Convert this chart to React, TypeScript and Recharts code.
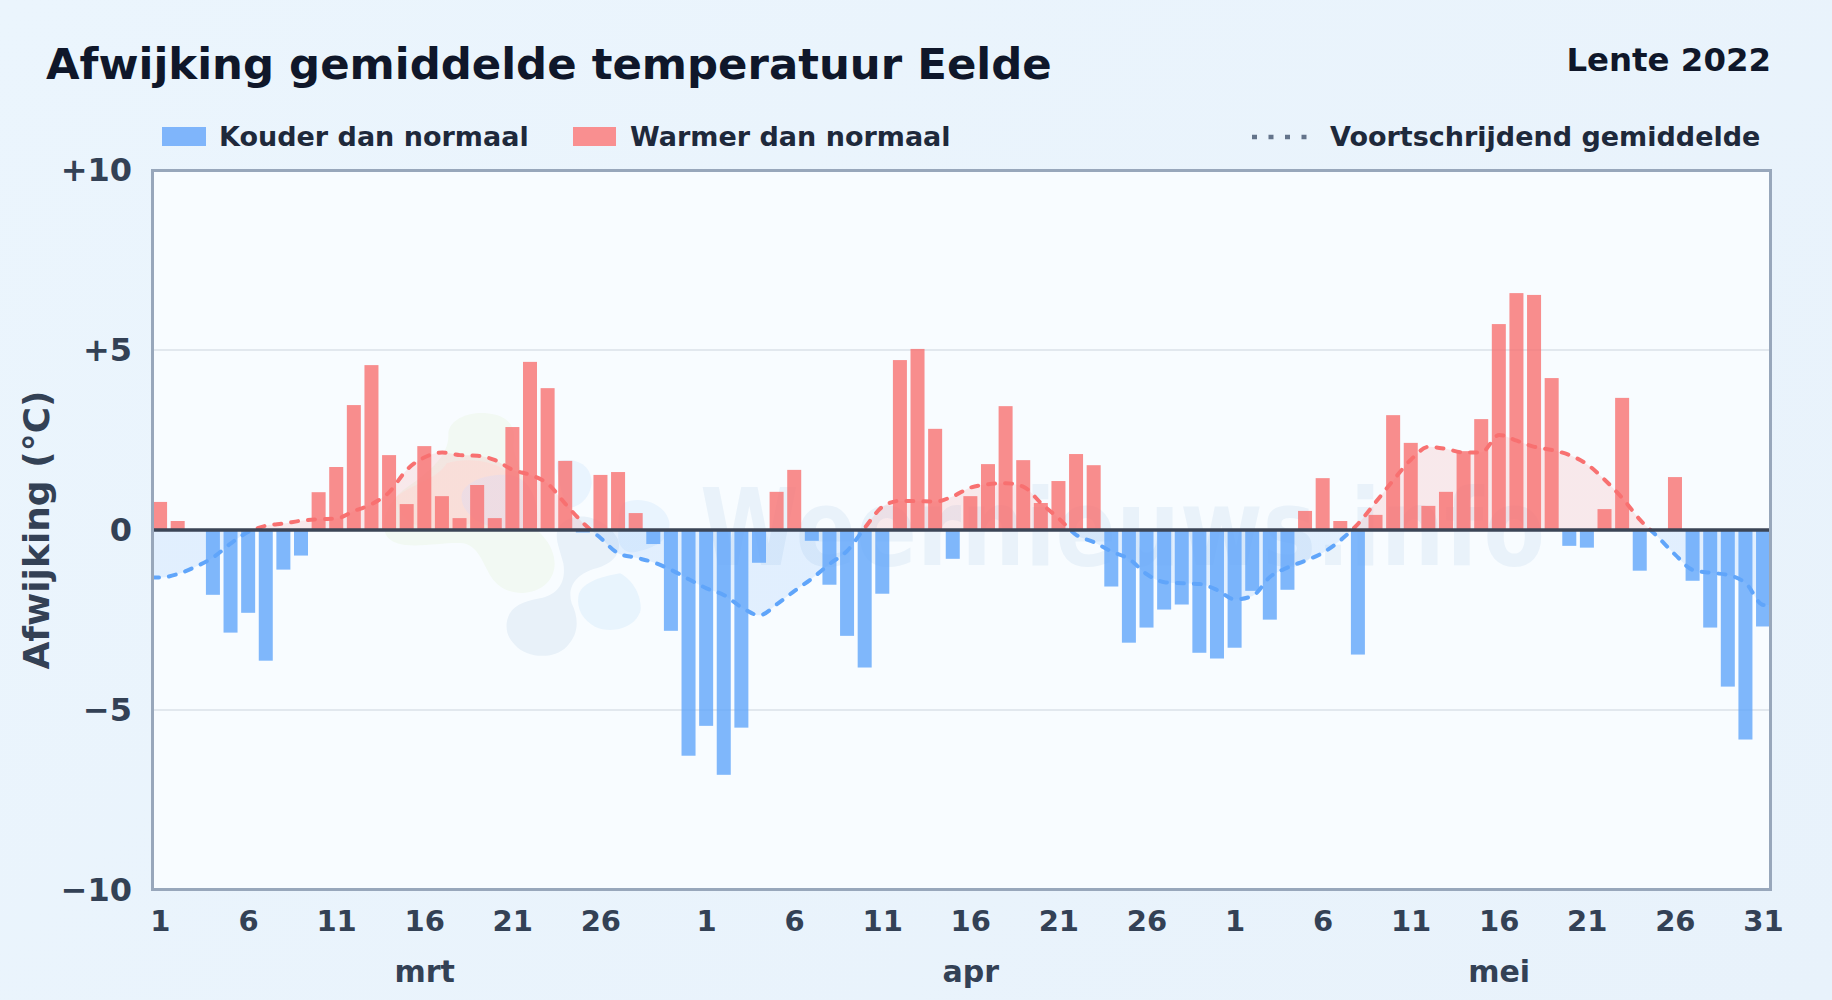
import React from 'react';
import { ComposedChart, Bar, Area, XAxis, YAxis, CartesianGrid, ReferenceLine } from 'recharts';

const marchDev = [0.78,0.25,0,-1.8,-2.85,-2.3,-3.63,-1.1,-0.71,1.05,1.75,3.47,4.58,2.08,0.72,2.33,0.94,0.33,1.25,0.33,2.86,4.67,3.94,1.92,-0.07,1.53,1.61,0.47,-0.39,-2.8,-6.27];
const aprilDev = [-5.44,-6.8,-5.49,-0.91,1.06,1.67,-0.3,-1.52,-2.94,-3.82,-1.77,4.72,5.03,2.81,-0.8,0.94,1.83,3.44,1.94,0.75,1.36,2.11,1.8,-1.57,-3.13,-2.71,-2.21,-2.07,-3.41,-3.57];
const mayDev = [-3.27,-1.69,-2.49,-1.66,0.53,1.44,0.25,-3.46,0.42,3.19,2.42,0.67,1.06,2.19,3.08,5.72,6.58,6.53,4.22,-0.44,-0.49,0.58,3.67,-1.13,0,1.47,-1.41,-2.71,-4.35,-5.82,-2.68];
const marchAvg = [-1.32,-1.22,-1.02,-0.76,-0.37,-0.05,0.12,0.18,0.26,0.3,0.32,0.53,0.72,1.06,1.68,2.02,2.15,2.08,2.06,1.94,1.67,1.53,1.28,0.72,0.19,-0.23,-0.65,-0.77,-0.9,-1.11,-1.37];
const aprilAvg = [-1.62,-1.81,-2.15,-2.37,-2.06,-1.69,-1.34,-0.94,-0.57,0.07,0.65,0.81,0.8,0.79,0.94,1.18,1.27,1.3,1.2,0.74,0.32,-0.14,-0.34,-0.6,-0.81,-1.23,-1.45,-1.48,-1.5,-1.67];
const mayAvg = [-1.93,-1.83,-1.3,-1.04,-0.85,-0.63,-0.28,0.18,0.78,1.39,1.96,2.31,2.25,2.15,2.16,2.64,2.48,2.31,2.22,2.08,1.82,1.39,0.88,0.28,-0.19,-0.69,-1.11,-1.19,-1.25,-1.48,-2.08];

const tickIndexes = [0,5,10,15,20,25,31,36,41,46,51,56,61,66,71,76,81,86,91];
const tickLabels = ['1','6','11','16','21','26','1','6','11','16','21','26','1','6','11','16','21','26','31'];
const monthIndexes = [15,46,76];
const monthLabels = ['mrt','apr','mei'];
const yTicks = [-10,-5,0,5,10];
const yLabels = ['\u221210','\u22125','0','+5','+10'];
const gridValues = [-5,5];

const DOMAIN_LO = -0.48;
const DOMAIN_HI = 91.43;
const BAR_WIDTH = 14;

const deviations = [...marchDev, ...aprilDev, ...mayDev];
const averages = [...marchAvg, ...aprilAvg, ...mayAvg];

const barRows = deviations.map((d, i) => ({
  day: i,
  warm: d > 0 ? d : 0,
  cold: d < 0 ? d : 0,
}));
const avgRows = [
  { day: DOMAIN_LO, avg: averages[0] },
  ...averages.map((a, i) => ({ day: i, avg: a })),
  { day: DOMAIN_HI, avg: averages[averages.length - 1] },
];

const FONT = '"DejaVu Sans", sans-serif';
const PLOT = { left: 152, top: 170, width: 1619, height: 720 };

const abs = (x: number, y: number, size: number, color: string, extra: any = {}) => ({
  position: 'absolute' as const,
  left: x,
  top: y,
  fontFamily: FONT,
  fontWeight: 700,
  fontSize: size,
  lineHeight: `${size}px`,
  color,
  whiteSpace: 'nowrap' as const,
  ...extra,
});

// The x axis is numeric, so the library narrows the bars to its smallest data gap; keep the scaled centre and set the drawn width.
const WideBar = (props: any) => {
  const { x, y, width, height, fill, fillOpacity } = props;
  if (!height) return null;
  const left = Math.max(x + width / 2 - BAR_WIDTH / 2, PLOT.left);
  return (
    <rect
      x={left}
      y={height < 0 ? y + height : y}
      width={BAR_WIDTH}
      height={Math.abs(height)}
      fill={fill}
      fillOpacity={fillOpacity}
    />
  );
};

function Watermark() {
  return (
    <svg width={1832} height={1000} style={{ position: 'absolute', left: 0, top: 0 }}>
      <g transform="translate(370,400) scale(0.3333)">
        <path fill="#f2f9f3" d="M235 100 C240 55 300 35 350 40 C410 45 440 75 430 130 C425 170 460 190 500 390 C560 440 570 510 530 550 C490 590 410 590 370 540 C340 500 330 440 280 430 C220 425 120 450 70 425 C20 400 40 320 100 270 C170 220 240 170 235 100 Z" />
        <path fill="#f9f0ea" d="M80 290 C130 250 200 240 230 190 C290 170 400 180 430 240 C420 300 300 400 200 390 C130 385 80 350 80 290 Z" />
        <path fill="#eceef6" d="M275 285 C285 240 360 220 420 225 C480 235 510 300 500 380 C430 395 340 390 300 345 C285 330 272 310 275 285 Z" />
        <path fill="#e8f1f9" d="M410 670 C415 625 450 605 510 595 C560 585 590 550 580 490 C565 430 540 390 590 360 C650 330 720 370 745 420 C755 460 730 490 680 505 C620 520 590 560 605 610 C625 650 630 700 590 740 C550 780 470 775 435 735 C415 715 408 695 410 670 Z" />
        <path fill="#e8f4fd" d="M625 590 C630 550 690 530 750 520 C790 540 815 590 812 630 C800 680 730 705 675 680 C640 660 620 630 625 590 Z" />
        <path fill="#e9f4fe" d="M560 185 C610 170 665 190 665 250 C660 300 620 325 590 325 C570 260 560 220 560 185 Z" />
        <path fill="#e9f4fe" d="M760 310 C810 285 885 310 898 365 C905 420 850 445 800 455 C770 465 740 440 745 400 C745 360 745 330 760 310 Z" />
      </g>
      <text x={700} y={565} fontFamily={FONT} fontWeight={700} fontSize={107} fill="#e9f2fa" textLength={845} lengthAdjust="spacingAndGlyphs">Weernieuws.info</text>
    </svg>
  );
}

export default function App() {
  return (
    <div style={{ position: 'absolute', left: 0, top: 0, width: 1832, height: 1000, overflow: 'hidden', background: 'linear-gradient(135deg,#ebf5fd 0%,#e8f2fb 100%)' }}>
      <div style={{ position: 'absolute', left: PLOT.left, top: PLOT.top, width: PLOT.width, height: PLOT.height, background: '#f8fcff' }} />
      <Watermark />
      <div style={abs(46, 43, 43.4, '#0f172a')}>Afwijking gemiddelde temperatuur Eelde</div>
      <div style={abs(1771, 44, 32.4, '#0f172a', { transform: 'translateX(-100%)' })}>Lente 2022</div>

      <div style={{ position: 'absolute', left: 162, top: 127, width: 44, height: 19, background: '#7fb5fb' }} />
      <div style={abs(219, 123, 27, '#1e293b')}>Kouder dan normaal</div>
      <div style={{ position: 'absolute', left: 573, top: 127, width: 43, height: 19, background: '#f98f90' }} />
      <div style={abs(630, 123, 27, '#1e293b')}>Warmer dan normaal</div>
      <svg width={70} height={10} style={{ position: 'absolute', left: 1250, top: 132 }}>
        <line x1={2} y1={5} x2={60} y2={5} stroke="#64748b" strokeWidth={4.5} strokeDasharray="5 11.5" />
      </svg>
      <div style={abs(1330, 123, 27, '#1e293b')}>Voortschrijdend gemiddelde</div>

      <div style={{ position: 'absolute', left: 0, top: 0 }}>
        <ComposedChart
          width={1832}
          height={1000}
          data={barRows}
          stackOffset="sign"
          margin={{ top: PLOT.top, right: 1832 - PLOT.left - PLOT.width, bottom: 10, left: 0 }}
        >
          <defs>
            <linearGradient id="avgStroke" gradientUnits="userSpaceOnUse" x1={0} x2={0} y1={PLOT.top} y2={PLOT.top + PLOT.height}>
              <stop offset="50%" stopColor="#f87171" />
              <stop offset="50%" stopColor="#60a5fa" />
            </linearGradient>
            <linearGradient id="avgFill" gradientUnits="userSpaceOnUse" x1={0} x2={0} y1={PLOT.top} y2={PLOT.top + PLOT.height}>
              <stop offset="50%" stopColor="#f87171" stopOpacity={0.14} />
              <stop offset="50%" stopColor="#60a5fa" stopOpacity={0.15} />
            </linearGradient>
          </defs>
          <CartesianGrid horizontal vertical={false} horizontalValues={gridValues} stroke="#e2e8ee" strokeWidth={2} />
          <XAxis
            xAxisId={0}
            dataKey="day"
            type="number"
            domain={[DOMAIN_LO, DOMAIN_HI]}
            allowDataOverflow
            ticks={tickIndexes}
            interval={0}
            tickFormatter={(v: number) => tickLabels[tickIndexes.indexOf(v)]}
            axisLine={false}
            tickLine={false}
            tickSize={0}
            tickMargin={20}
            height={50}
            tick={{ fontFamily: FONT, fontWeight: 700, fontSize: 29, fill: '#334155' }}
          />
          <XAxis
            xAxisId={1}
            dataKey="day"
            type="number"
            domain={[DOMAIN_LO, DOMAIN_HI]}
            allowDataOverflow
            ticks={monthIndexes}
            interval={0}
            tickFormatter={(v: number) => monthLabels[monthIndexes.indexOf(v)]}
            axisLine={false}
            tickLine={false}
            tickSize={0}
            tickMargin={21}
            height={50}
            tick={{ fontFamily: FONT, fontWeight: 700, fontSize: 30, fill: '#334155' }}
          />
          <YAxis
            type="number"
            domain={[-10, 10]}
            ticks={yTicks}
            interval={0}
            width={PLOT.left}
            tickFormatter={(v: number) => yLabels[yTicks.indexOf(v)]}
            axisLine={false}
            tickLine={false}
            tickSize={0}
            tickMargin={20}
            tick={{ fontFamily: FONT, fontWeight: 700, fontSize: 32, fill: '#334155' }}
            label={{ value: 'Afwijking (\u00b0C)', angle: -90, position: 'insideLeft', dx: 31, dy: 0, style: { fontFamily: FONT, fontWeight: 700, fontSize: 36, fill: '#334155', textAnchor: 'middle' } }}
          />
          <Area
            data={avgRows}
            dataKey="avg"
            type="monotone"
            baseValue={0}
            fill="url(#avgFill)"
            fillOpacity={1}
            stroke="none"
            dot={false}
            activeDot={false}
            isAnimationActive={false}
          />
          <Bar dataKey="warm" stackId="dev" barSize={BAR_WIDTH} fill="#f87171" fillOpacity={0.8} shape={WideBar} isAnimationActive={false} />
          <Bar dataKey="cold" stackId="dev" barSize={BAR_WIDTH} fill="#60a5fa" fillOpacity={0.8} shape={WideBar} isAnimationActive={false} />
          <Area
            data={avgRows}
            dataKey="avg"
            type="monotone"
            baseValue={0}
            fill="none"
            stroke="url(#avgStroke)"
            strokeWidth={4}
            strokeDasharray="7 10"
            strokeLinecap="round"
            dot={false}
            activeDot={false}
            isAnimationActive={false}
          />
          <ReferenceLine y={0} stroke="#3b4556" strokeWidth={3.5} />
        </ComposedChart>
      </div>
      <div style={{ position: 'absolute', left: PLOT.left - 1.5, top: PLOT.top - 1.5, width: PLOT.width - 3.5, height: PLOT.height - 3.3, border: '3px solid #98a7bb', pointerEvents: 'none' }} />
    </div>
  );
}
